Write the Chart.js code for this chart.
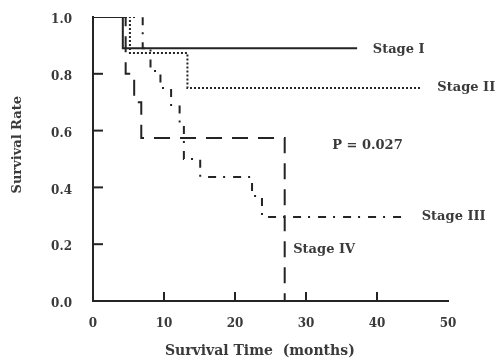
<!DOCTYPE html>
<html>
<head>
<meta charset="utf-8">
<script src="https://cdn.jsdelivr.net/npm/chart.js@4.4.1/dist/chart.umd.min.js"></script>
<style>
  html, body { margin: 0; padding: 0; background: #fff; }
  #wrap { width: 500px; height: 360px; }
</style>
</head>
<body>
<div id="wrap"><canvas id="km"></canvas></div>
<script>
// survival time (months) where each step starts, and survival rate after it
const stage1Time = [0, 4.2, 37.2];
const stage1Rate = [1.0, 0.89, 0.89];

const stage2Time = [0, 5.2, 13.3, 46.3];
const stage2Rate = [1.0, 0.873, 0.75, 0.75];

const stage3Time = [0, 7.0, 8.1, 9.5, 11.0, 12.2, 12.8, 15.1, 22.4, 23.8, 43.7];
const stage3Rate = [1.0, 0.89, 0.81, 0.75, 0.685, 0.62, 0.50, 0.437, 0.37, 0.296, 0.296];

const stage4Time = [0, 4.6, 5.8, 6.8, 27.0];
const stage4Rate = [1.0, 0.80, 0.70, 0.574, 0.0];

const xTicks = [0, 10, 20, 30, 40, 50];
const yTicks = [0.0, 0.2, 0.4, 0.6, 0.8, 1.0];

// curve labels, placed in data units
const labelText = ['Stage I', 'Stage II', 'P = 0.027', 'Stage III', 'Stage IV'];
const labelTime = [39.4, 48.5, 33.7, 46.3, 28.2];
const labelRate = [0.884, 0.75, 0.546, 0.296, 0.18];

const ink = '#242424';
const textInk = '#3a3a3a';
const serif = '"DejaVu Serif", "Liberation Serif", serif';

const toPoints = (times, rates) => times.map((t, i) => ({ x: t, y: rates[i] }));

const curve = (label, times, rates, dash) => ({
  label: label,
  data: toPoints(times, rates),
  stepped: true,
  borderColor: ink,
  borderWidth: 2,
  borderDash: dash,
  pointRadius: 0,
  fill: false,
});

// inward tick marks, axis titles and the text labels next to each curve
const annotations = {
  id: 'annotations',
  afterDraw(chart) {
    const { ctx, scales: { x, y } } = chart;
    ctx.save();
    ctx.strokeStyle = ink;
    ctx.lineWidth = 2;
    yTicks.filter(v => v > 0 && v < 1).forEach(v => {
      const py = y.getPixelForValue(v);
      ctx.beginPath();
      ctx.moveTo(x.left, py);
      ctx.lineTo(x.left + 10, py);
      ctx.stroke();
    });
    xTicks.filter(v => v > 0 && v < 50).forEach(v => {
      const px = x.getPixelForValue(v);
      ctx.beginPath();
      ctx.moveTo(px, y.bottom);
      ctx.lineTo(px, y.bottom - 9);
      ctx.stroke();
    });
    ctx.fillStyle = textInk;
    ctx.font = 'bold 13px ' + serif;
    ctx.textAlign = 'left';
    ctx.textBaseline = 'middle';
    labelText.forEach((txt, i) => {
      ctx.fillText(txt, x.getPixelForValue(labelTime[i]), y.getPixelForValue(labelRate[i]));
    });
    // axis titles sit a little off-centre in the original
    ctx.font = 'bold 14px ' + serif;
    ctx.textAlign = 'center';
    ctx.fillText('Survival Time  (months)', x.getPixelForValue(23.5), 351);
    ctx.font = 'bold 13px ' + serif;
    ctx.translate(18, y.getPixelForValue(0.55));
    ctx.rotate(-Math.PI / 2);
    ctx.fillText('Survival Rate', 0, 0);
    ctx.restore();
  }
};

new Chart(document.getElementById('km'), {
  type: 'line',
  data: {
    datasets: [
      curve('Stage I', stage1Time, stage1Rate, []),
      curve('Stage II', stage2Time, stage2Rate, [2, 2]),
      curve('Stage III', stage3Time, stage3Rate, [8, 7, 2, 8]),
      curve('Stage IV', stage4Time, stage4Rate, [16, 10]),
    ],
  },
  options: {
    responsive: true,
    maintainAspectRatio: false,
    animation: false,
    layout: { padding: { left: 0, right: 52, top: 17, bottom: 0 } },
    plugins: {
      legend: { display: false },
      tooltip: { enabled: false },
    },
    scales: {
      x: {
        type: 'linear',
        min: 0,
        max: 50,
        afterBuildTicks: (scale) => { scale.ticks = xTicks.map(v => ({ value: v })); },
        afterFit: (scale) => { scale.height = 59; },
        grid: { display: false, drawTicks: false },
        border: { display: true, color: ink, width: 2 },
        ticks: {
          padding: 16,
          color: textInk,
          font: { family: serif, size: 12, weight: 'bold' },
        },
        title: { display: false },
      },
      y: {
        min: 0,
        max: 1,
        afterBuildTicks: (scale) => { scale.ticks = yTicks.map(v => ({ value: v })); },
        afterFit: (scale) => {
          scale.width = 93;
          scale.paddingTop = 0;
          scale.paddingBottom = 0;
        },
        grid: { display: false, drawTicks: false },
        border: { display: true, color: ink, width: 2 },
        ticks: {
          padding: 21,
          labelOffset: 3,
          color: textInk,
          font: { family: serif, size: 12, weight: 'bold' },
          callback: (v) => v.toFixed(1),
        },
        title: { display: false },
      },
    },
  },
  plugins: [annotations],
});
</script>
</body>
</html>
